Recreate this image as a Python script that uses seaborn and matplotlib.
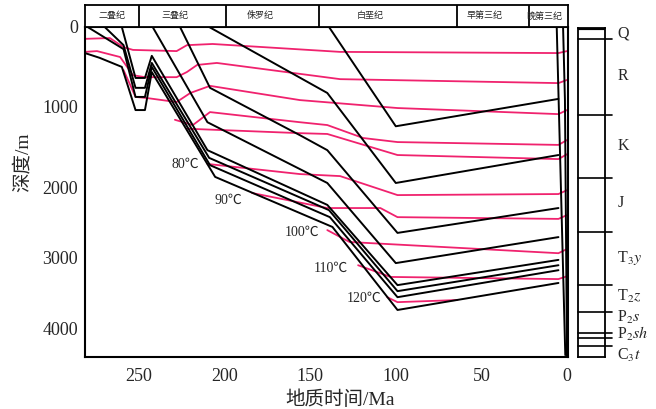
import numpy as np
import pandas as pd
import matplotlib
matplotlib.use("Agg")
import matplotlib.pyplot as plt
import seaborn as sns

# ---- burial curves of horizons: age (Ma) / depth (m) ----
h1_age = [139, 100, 5]
h1_dep = [0, 1250, 910]
h2_age = [209, 140, 100, 5]
h2_dep = [0, 835, 1950, 1605]
h3_age = [226, 208.5, 156, 140, 99, 5]
h3_dep = [0, 770, 1360, 1545, 2655, 2300]
h4_age = [242, 210, 140, 100, 5]
h4_dep = [0, 1200, 1950, 3085, 2715]
h5_age = [260, 252, 246.5, 242.5, 210, 140, 99, 5]
h5_dep = [0, 645, 645, 365, 1545, 2255, 3395, 3040]
h6_age = [270, 259, 252, 246.5, 242.5, 209, 139, 99, 5]
h6_dep = [0, 230, 770, 770, 455, 1640, 2330, 3480, 3115]
h7_age = [280, 259, 252, 246.5, 242.5, 208.5, 138.5, 99, 5]
h7_dep = [0, 280, 885, 885, 505, 1730, 2430, 3565, 3185]
h8_age = [281.5, 273, 260, 252, 246.5, 242.5, 205.5, 137, 99, 5]
h8_dep = [330, 390, 505, 1050, 1050, 570, 1875, 2570, 3745, 3365]
v1_age = [6, 1]
v1_dep = [0, 4380]
v2_age = [2.3, 1.2, 0]
v2_dep = [0, 925, 4410]

# ---- isotherms ----
t1_age = [281.5, 267, 259, 253.5, 228, 222, 207, 132.5, 5, 0]
t1_dep = [150, 140, 255, 290, 305, 230, 215, 315, 330, 305]
t2_age = [281.5, 274.5, 270, 261, 253.5, 246.5, 228, 222, 216, 204.5, 132.5, 5, 0]
t2_dep = [315, 305, 330, 380, 610, 635, 635, 570, 480, 455, 660, 710, 670]
t3_age = [259, 252, 245, 228, 220, 208.5, 156, 99, 5, 0]
t3_dep = [545, 885, 900, 950, 835, 745, 925, 1025, 1100, 1050]
t4_age = [229, 218.5, 208.5, 156, 140, 119, 99, 5, 0]
t4_dep = [1170, 1235, 1075, 1200, 1235, 1395, 1445, 1480, 1420]
t5_age = [222, 156, 140, 99, 5, 0]
t5_dep = [1280, 1335, 1345, 1605, 1655, 1595]
t80_age = [210, 156, 132.5, 99, 5, 0]
t80_dep = [1715, 1840, 1865, 2115, 2100, 2045]
t90_age = [184, 140, 109, 99, 5, 0]
t90_dep = [2085, 2300, 2300, 2430, 2455, 2400]
t100_age = [140, 127, 5, 0]
t100_dep = [2615, 2785, 2945, 2885]
t110_age = [122, 103, 5, 0]
t110_dep = [3115, 3280, 3310, 3270]
t120_age = [105, 99, 64]
t120_dep = [3565, 3635, 3605]

temp_labels = ["80℃", "90℃", "100℃", "110℃", "120℃"]
temp_label_age = [223, 198, 155, 138, 118.5]
temp_label_dep = [1716, 2186, 2643, 3155, 3577]

# ---- geological periods (header) ----
period_names = ["二叠纪", "三叠纪", "侏罗纪", "白垩纪", "早第三纪", "晚第三纪"]
period_bounds = [250, 199, 145, 64, 22]
period_label_age = [266, 229, 179, 115, 48, 13]

# ---- stratigraphic column ----
strat_bounds = [139, 1099, 1877, 2629, 3380, 3760, 4056, 4127, 4239]
strat_names = ["Q", "R", "K", "J", r"T$_3y$", r"T$_2z$", r"P$_2s$", r"P$_2sh$", r"C$_3t$"]
strat_label_dep = [75, 608, 1482, 2214, 3000, 3535, 3840, 4075, 4370]

yticks = [0, 1000, 2000, 3000, 4000]
xticks = [250, 200, 150, 100, 50, 0]

# depth axis of the original figure is not evenly spaced
depth_knots = [0, 1000, 2000, 3000, 4000, 5000]
scale_knots = [0, 0.79, 1.60, 2.30, 3.01, 3.72]


def fwd(d):
    return np.interp(d, depth_knots, scale_knots)


def inv(p):
    return np.interp(p, scale_knots, depth_knots)


def to_frame(pairs):
    rows = []
    for i, (a, d) in enumerate(pairs):
        for x, y in zip(a, d):
            rows.append((i, x, y))
    return pd.DataFrame(rows, columns=["line", "age", "depth"])


burial = to_frame([(h1_age, h1_dep), (h2_age, h2_dep), (h3_age, h3_dep),
                   (h4_age, h4_dep), (h5_age, h5_dep), (h6_age, h6_dep),
                   (h7_age, h7_dep), (h8_age, h8_dep), (v1_age, v1_dep),
                   (v2_age, v2_dep)])
iso = to_frame([(t1_age, t1_dep), (t2_age, t2_dep), (t3_age, t3_dep),
                (t4_age, t4_dep), (t5_age, t5_dep), (t80_age, t80_dep),
                (t90_age, t90_dep), (t100_age, t100_dep),
                (t110_age, t110_dep), (t120_age, t120_dep)])

sns.set_style("white")
plt.rcParams["font.family"] = ["Liberation Serif", "Noto Sans CJK SC"]
plt.rcParams["mathtext.fontset"] = "stix"

fig = plt.figure(figsize=(6.56, 4.09), dpi=100)
ax = fig.add_axes([0.1296, 0.127, 0.7363, 0.807])
axh = fig.add_axes([0.1296, 0.934, 0.7363, 0.054])
axc = fig.add_axes([0.881, 0.127, 0.0412, 0.805])

pink = "#f0226e"
sns.lineplot(data=iso, x="age", y="depth", units="line", estimator=None,
             sort=False, color=pink, lw=1.3, ax=ax, legend=False)
sns.lineplot(data=burial, x="age", y="depth", units="line", estimator=None,
             sort=False, color="black", lw=1.4, ax=ax, legend=False)

ax.set_yscale("function", functions=(fwd, inv))
ax.set_xlim(281.5, -0.6)
ax.set_ylim(4408, 0)
ax.set_xticks(xticks)
ax.set_yticks(yticks)
ax.tick_params(labelsize=13, length=3, width=1, pad=2)
ax.tick_params(axis="x", pad=5)
for s in ax.spines.values():
    s.set_linewidth(1.5)
    s.set_color("black")

for t, a, d in zip(temp_labels, temp_label_age, temp_label_dep):
    ax.text(a, d, t, fontsize=10, ha="center", va="center")

ax.set_xlabel("地质时间/Ma", fontsize=14)
ax.set_ylabel("深度/m", fontsize=14)
ax.xaxis.set_label_coords(0.528, -0.10)
ax.yaxis.set_label_coords(-0.11, 0.59)

# header with periods
axh.set_xlim(281.5, -0.6)
axh.set_ylim(0, 1)
for b in period_bounds:
    axh.axvline(b, color="black", lw=1.3)
for n, a in zip(period_names, period_label_age):
    axh.text(a, 0.5, n, fontsize=6.5, ha="center", va="center",
             family=["Noto Sans CJK SC"])
axh.set_xticks([])
axh.set_yticks([])
for s in axh.spines.values():
    s.set_linewidth(1.3)
    s.set_color("black")

# stratigraphic column
axc.set_yscale("function", functions=(fwd, inv))
axc.set_ylim(4395, 0)
axc.set_xlim(0, 1)
axc.set_xticks([])
axc.set_yticks([])
for s in axc.spines.values():
    s.set_linewidth(1.3)
    s.set_color("black")
axc.axhline(0, xmin=0, xmax=1, color="black", lw=3)
tr = axc.get_yaxis_transform()
for b in strat_bounds:
    axc.plot([0, 1.27], [b, b], color="black", lw=1.2, transform=tr, clip_on=False)
for n, d in zip(strat_names, strat_label_dep):
    axc.text(1.45, d, n, fontsize=11.5, ha="left", va="center", transform=tr)

fig.savefig("out.png", dpi=100)
